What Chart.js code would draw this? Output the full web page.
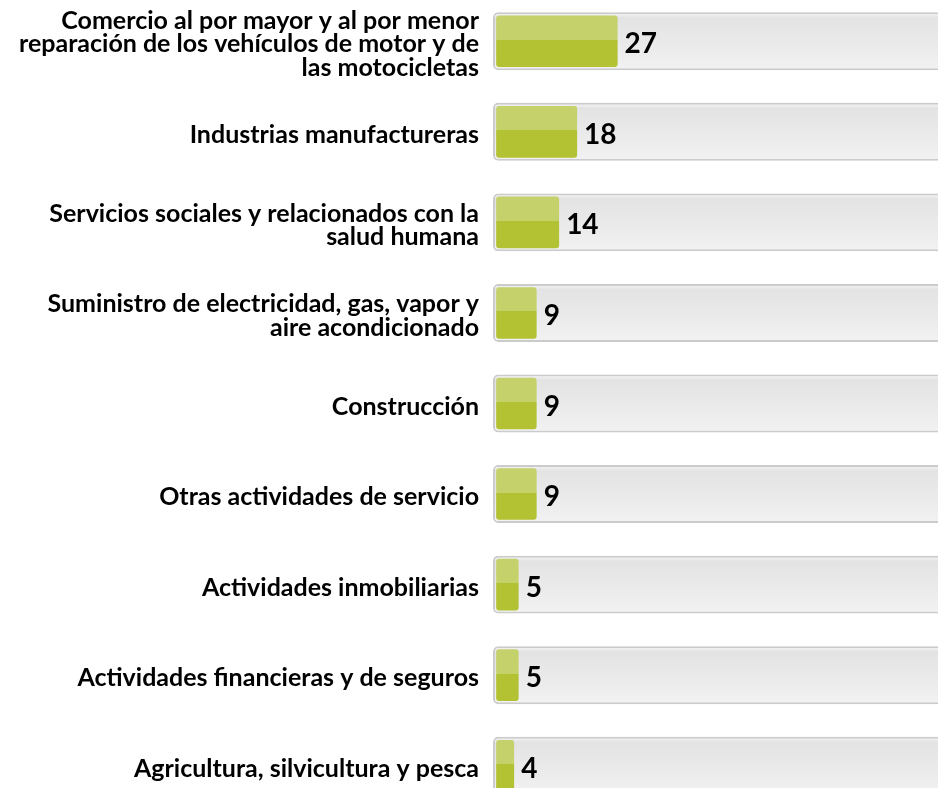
<!DOCTYPE html>
<html>
<head>
<meta charset="utf-8">
<script src="https://cdn.jsdelivr.net/npm/chart.js@4/dist/chart.umd.min.js"></script>
<style>
  html, body { margin: 0; padding: 0; background: #fff; overflow: hidden; }
  #wrap { position: absolute; left: 0; top: -4px; width: 946px; height: 815px; }
</style>
</head>
<body>
<div id="wrap"><canvas id="chart_sectores"></canvas></div>
<script>
// categories (wrapped as in the picture)
const sectores = [
  ['Comercio al por mayor y al por menor', 'reparación de los vehículos de motor y de', 'las motocicletas'],
  'Industrias manufactureras',
  ['Servicios sociales y relacionados con la', 'salud humana'],
  ['Suministro de electricidad, gas, vapor y', 'aire acondicionado'],
  'Construcción',
  'Otras actividades de servicio',
  'Actividades inmobiliarias',
  'Actividades financieras y de seguros',
  'Agricultura, silvicultura y pesca'
];
const valores = [27, 18, 14, 9, 9, 9, 5, 5, 4];
// gray track behind every bar
const pista_inicio = -0.7;
const pista_fin = 100;

const verde_claro = '#c5d16b';
const verde_oscuro = '#b3c232';
const fuente = 'Lato, Calibri, sans-serif';

// two-tone green: light top half, darker bottom half
function verdeBarra(ctx){
  const chart = ctx.chart;
  if (!chart.chartArea || ctx.type !== 'data') return verde_oscuro;
  const el = chart.getDatasetMeta(ctx.datasetIndex).data[ctx.dataIndex];
  const y = chart.scales.y.getPixelForValue(ctx.dataIndex);
  const h = el && el.height ? el.height : 50;
  const g = chart.ctx.createLinearGradient(0, y - h/2, 0, y + h/2);
  g.addColorStop(0, verde_claro);
  g.addColorStop(0.47, verde_claro);
  g.addColorStop(0.47, verde_oscuro);
  g.addColorStop(1, verde_oscuro);
  return g;
}

function grisPista(ctx){
  const chart = ctx.chart;
  if (!chart.chartArea || ctx.type !== 'data') return '#e6e6e6';
  const y = chart.scales.y.getPixelForValue(ctx.dataIndex);
  const g = chart.ctx.createLinearGradient(0, y - 28, 0, y + 28);
  g.addColorStop(0, '#f4f4f4');
  g.addColorStop(0.08, '#e4e3e4');
  g.addColorStop(0.8, '#eeeeee');
  g.addColorStop(1, '#f2f2f2');
  return g;
}

// numbers to the right of the green bars
const etiquetasValor = {
  id: 'etiquetasValor',
  afterDatasetsDraw(chart){
    const c = chart.ctx;
    const meta = chart.getDatasetMeta(1);
    c.save();
    c.font = 'bold 28px ' + fuente;
    c.fillStyle = '#000';
    c.textAlign = 'left';
    c.textBaseline = 'middle';
    meta.data.forEach((bar, i) => {
      c.fillText(valores[i], bar.x + 7, bar.y + 3);
    });
    c.restore();
  }
};

const data = {
  labels: sectores,
  datasets: [{
    data: sectores.map(() => [pista_inicio, pista_fin]),
    backgroundColor: grisPista,
    borderColor: '#cbcbcb',
    borderWidth: 2,
    borderSkipped: false,
    borderRadius: 5,
    barPercentage: 0.64,
    categoryPercentage: 1,
    grouped: false,
    order: 2
  }, {
    data: valores,
    backgroundColor: verdeBarra,
    borderWidth: 0,
    borderRadius: 3,
    borderSkipped: false,
    barPercentage: 0.57,
    categoryPercentage: 1,
    grouped: false,
    order: 1
  }]
};

new Chart(document.getElementById('chart_sectores'), {
  type: 'bar',
  data: data,
  options: {
    indexAxis: 'y',
    responsive: true,
    maintainAspectRatio: false,
    devicePixelRatio: 1,
    animation: false,
    layout: { padding: 0 },
    plugins: { legend: { display: false }, tooltip: { enabled: false } },
    scales: {
      x: {
        min: pista_inicio,
        max: pista_fin,
        display: false
      },
      y: {
        grid: { display: false, drawTicks: false },
        border: { display: false },
        afterFit(scale){
          scale.width = 493;
          // multi-line labels fit inside their band, no extra room needed
          scale.paddingTop = 0;
          scale.paddingBottom = 0;
        },
        ticks: {
          color: '#000',
          padding: 14,
          labelOffset: 3,
          font: { family: fuente, weight: 'bold', size: 25, lineHeight: '23.5px' }
        }
      }
    }
  },
  plugins: [etiquetasValor]
});
</script>
</body>
</html>
